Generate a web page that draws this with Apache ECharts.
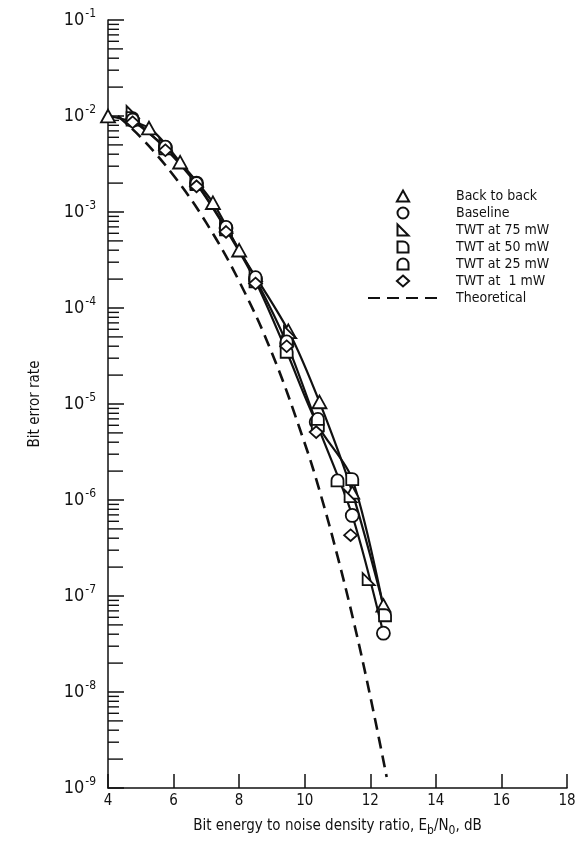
<!DOCTYPE html>
<html lang="en">
<head>
  <meta charset="UTF-8">
  <title>Bit error rate</title>
  <script src="https://cdn.jsdelivr.net/npm/echarts@6/dist/echarts.min.js"></script>
  <style>
    html, body { margin: 0; padding: 0; background: #fff; }
    #chart { width: 586px; height: 842px; }
  </style>
</head>
<body>
  <div id="chart"></div>
  <script>
    // measured points [Eb/N0 dB, bit error rate]
    const backToBack = [[4.0, 1.0e-2], [5.25, 7.5e-3], [6.2, 3.3e-3], [7.2, 1.25e-3], [8.0, 4.0e-4], [9.5, 5.8e-5], [10.45, 1.05e-5], [11.45, 1.2e-6], [12.4, 8e-8]]
    const baseline = [[4.75, 9.0e-3], [5.75, 4.7e-3], [6.7, 2.0e-3], [7.6, 6.8e-4], [8.5, 2.0e-4], [9.45, 4.3e-5], [10.35, 6.5e-6], [11.45, 6.9e-7], [12.4, 4.1e-8]]
    const twt75 = [[4.75, 1.1e-2], [5.75, 5.0e-3], [6.7, 2.1e-3], [7.6, 7.0e-4], [8.5, 2.2e-4], [9.55, 5.6e-5], [11.4, 1.1e-6], [11.95, 1.5e-7]]
    const twt50 = [[4.75, 9.5e-3], [5.75, 4.6e-3], [6.7, 1.95e-3], [7.6, 6.6e-4], [8.5, 1.9e-4], [9.45, 3.5e-5], [10.4, 6.0e-6], [11.45, 1.65e-6], [12.45, 6.3e-8]]
    const twt25 = [[4.75, 9.2e-3], [5.75, 4.8e-3], [6.7, 2.0e-3], [7.6, 7.0e-4], [8.5, 2.1e-4], [9.45, 4.5e-5], [10.4, 7.0e-6], [11.0, 1.6e-6]]
    const twt1 = [[4.75, 8.6e-3], [5.75, 4.4e-3], [6.7, 1.85e-3], [7.6, 6.2e-4], [8.5, 1.8e-4], [9.45, 4.0e-5], [10.35, 5.1e-6], [11.4, 4.3e-7]]
    const theoretical = [[4.3, 1.0e-2], [5, 6.0e-3], [6, 2.4e-3], [7, 7.7e-4], [8, 1.9e-4], [9, 3.4e-5], [10, 3.9e-6], [10.5, 1.1e-6], [11, 2.6e-7], [11.5, 5.3e-8], [12, 9e-9], [12.5, 1.3e-9]]

    const legendNames = ['Back to back', 'Baseline', 'TWT at 75 mW', 'TWT at 50 mW', 'TWT at 25 mW', 'TWT at  1 mW', 'Theoretical']
    const yExponents = [-9, -8, -7, -6, -5, -4, -3, -2, -1]
    const xTicks = [4, 6, 8, 10, 12, 14, 16, 18]

    // minor log ticks 2..9 x 10^k along the y axis
    const minorTicks = []
    for (let k = -9; k < -1; k++) {
      for (let m = 2; m <= 9; m++) minorTicks.push([4, m * Math.pow(10, k), m])
    }

    const font = '"DejaVu Sans Condensed", "Liberation Sans Narrow", "DejaVu Sans", sans-serif'
    const black = '#111'
    const clear = 'rgba(0,0,0,0)'

    // marker shapes
    const symTri = 'path://M5,0 L10,9 L0,9 Z'
    const symRight = 'path://M0,0 L0,10 L10,10 Z'
    const symD = 'path://M0,0 L5,0 A5,5 0 0 1 10,5 L10,10 L0,10 Z'
    const symDome = 'path://M0,10 L0,5 A5,5 0 0 1 10,5 L10,10 Z'
    const symDiamond = 'path://M5,0 L10,4.5 L5,9 L0,4.5 Z'

    function marks(name, data, symbol, size) {
      return {
        name: name,
        type: 'scatter',
        data: data,
        symbol: symbol,
        symbolSize: size,
        symbolKeepAspect: true,
        z: 5,
        itemStyle: { color: '#fff', borderColor: black, borderWidth: 1.8, opacity: 1 }
      }
    }
    function curve(name, data) {
      return {
        name: name,
        type: 'line',
        data: data,
        smooth: 0.3,
        symbol: 'none',
        z: 3,
        lineStyle: { color: black, width: 2.2 }
      }
    }

    const chart = echarts.init(document.getElementById('chart'))
    chart.setOption({
      animation: false,
      backgroundColor: '#fff',
      textStyle: { fontFamily: font, color: black },
      grid: { left: 108, right: 19, top: 20, bottom: 52 },
      legend: {
        data: legendNames.map(function (n) {
          return n === 'Theoretical'
            ? { name: n, itemStyle: { color: clear, borderColor: clear, borderWidth: 0 } }
            : { name: n }
        }),
        orient: 'vertical',
        left: 362,
        top: 184,
        itemWidth: 70,
        itemHeight: 11,
        itemGap: 3,
        symbolKeepAspect: true,
        textStyle: { fontSize: 14, color: black, fontFamily: font, padding: [0, 0, 0, 13] }
      },
      xAxis: {
        type: 'value',
        min: 4,
        max: 18,
        interval: 2,
        name: 'Bit energy to noise density ratio, E{s|b}/N{s|0}, dB',
        nameLocation: 'middle',
        nameGap: 31,
        nameTextStyle: {
          fontSize: 15, color: black, fontFamily: font,
          rich: { s: { fontSize: 12, padding: [0, 0, -9, 0], fontFamily: font, color: black } }
        },
        axisLine: { lineStyle: { color: black, width: 1.5 } },
        axisTick: { inside: true, length: 14, lineStyle: { color: black, width: 1.5 } },
        axisLabel: {
          fontSize: 15, color: black, margin: 6,
          formatter: function (v) { return xTicks.indexOf(v) >= 0 ? String(v) : '' }
        },
        splitLine: { show: false }
      },
      yAxis: {
        type: 'log',
        logBase: 10,
        min: 1e-9,
        max: 1e-1,
        name: 'Bit error rate',
        nameLocation: 'middle',
        nameGap: 65,
        nameTextStyle: { fontSize: 15, color: black, fontFamily: font },
        axisLine: { lineStyle: { color: black, width: 1.5 } },
        axisTick: { inside: true, length: 16, lineStyle: { color: black, width: 1.5 } },
        axisLabel: {
          margin: 12,
          formatter: function (v) {
            const e = Math.round(Math.log10(v))
            return yExponents.indexOf(e) >= 0 ? '{b|10}{e|' + e + '}' : ''
          },
          rich: {
            b: { fontSize: 18, color: black, fontFamily: font },
            e: { fontSize: 12, color: black, fontFamily: font, padding: [0, 0, 12, 1] }
          }
        },
        splitLine: { show: false }
      },
      series: [
        {
          name: 'ticks',
          type: 'custom',
          data: minorTicks,
          z: 2,
          silent: true,
          renderItem: function (params, api) {
            const p = api.coord([api.value(0), api.value(1)])
            const len = (api.value(2) === 2 || api.value(2) === 5) ? 15 : 11
            return {
              type: 'line',
              shape: { x1: p[0], y1: p[1], x2: p[0] + len, y2: p[1] },
              style: { stroke: black, lineWidth: 1.4 }
            }
          }
        },
        curve('c1', backToBack),
        curve('c2', baseline),
        curve('c3', twt50),
        {
          name: 'Theoretical',
          type: 'line',
          data: theoretical,
          smooth: 0.4,
          symbol: 'none',
          z: 3,
          itemStyle: { color: black },
          lineStyle: { color: black, width: 2.6, type: [12, 7] }
        },
        marks('Back to back', backToBack, symTri, 14),
        marks('Baseline', baseline, 'circle', 13),
        marks('TWT at 75 mW', twt75, symRight, 12),
        marks('TWT at 50 mW', twt50, symD, 12),
        marks('TWT at 25 mW', twt25, symDome, 12),
        marks('TWT at  1 mW', twt1, symDiamond, 13)
      ]
    })
  </script>
</body>
</html>
